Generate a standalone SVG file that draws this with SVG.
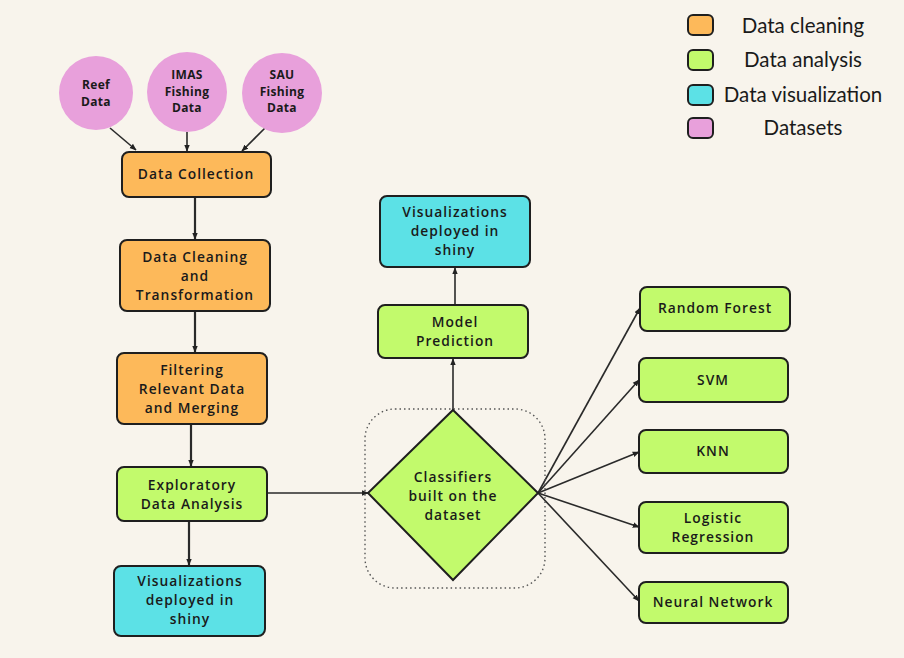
<svg xmlns="http://www.w3.org/2000/svg" width="904" height="658" viewBox="0 0 904 658">
<defs>
<marker id="ah" viewBox="0 0 10 10" refX="9" refY="5" markerWidth="7" markerHeight="7" markerUnits="userSpaceOnUse" orient="auto">
<path d="M0,1 L10,5 L0,9 z" fill="#222"/>
</marker>
<style>
.bx{stroke:#1f1f1f;stroke-width:2}
.or{fill:#FDB95A}.gr{fill:#C2FA6C}.cy{fill:#5CE1E6}.pk{fill:#E8A0DB}
.t{font-family:"Open Sans","Liberation Sans",sans-serif;font-weight:600;font-size:13.8px;letter-spacing:1px;fill:#1a1a1a;text-anchor:middle}
.tc{font-family:"Open Sans","Liberation Sans",sans-serif;font-weight:700;font-size:12px;letter-spacing:0.3px;fill:#1a1a1a;text-anchor:middle}
.lg{font-family:"Lato","Liberation Sans",sans-serif;font-size:20.5px;fill:#1a1a1a;text-anchor:middle}
.c{stroke:#2a2a2a;stroke-width:1.6;fill:none;marker-end:url(#ah)}
.cv{stroke-width:2.2}
</style>
</defs>
<rect width="904" height="658" fill="#F8F4EC"/>
<g id="legend">
<rect x="688" y="15" width="25" height="20" rx="5" class="bx or"/>
<rect x="688" y="50" width="25" height="20" rx="5" class="bx gr"/>
<rect x="688" y="85" width="25" height="20" rx="5" class="bx cy"/>
<rect x="688" y="118" width="25" height="20" rx="5" class="bx pk"/>
<text x="803" y="33" class="lg">Data cleaning</text>
<text x="803" y="67" class="lg">Data analysis</text>
<text x="803" y="102" class="lg">Data visualization</text>
<text x="803" y="135" class="lg">Datasets</text>
</g>
<g id="connectors">
<line x1="110" y1="128" x2="136" y2="150" class="c"/>
<line x1="187" y1="132" x2="187" y2="151" class="c"/>
<line x1="265" y1="128" x2="242" y2="151" class="c"/>
<line x1="195" y1="197" x2="195" y2="239" class="c cv"/>
<line x1="195" y1="311" x2="195" y2="352" class="c cv"/>
<line x1="191" y1="424" x2="191" y2="466" class="c cv"/>
<line x1="189" y1="521" x2="189" y2="565" class="c cv"/>
<line x1="267" y1="493" x2="368" y2="493" class="c"/>
<line x1="453" y1="410" x2="453" y2="359" class="c"/>
<line x1="455" y1="305" x2="455" y2="268" class="c"/>
<line x1="538" y1="493" x2="640" y2="308" class="c"/>
<line x1="538" y1="493" x2="639" y2="380" class="c"/>
<line x1="538" y1="493" x2="639" y2="452" class="c"/>
<line x1="538" y1="493" x2="639" y2="527" class="c"/>
<line x1="538" y1="493" x2="639" y2="601" class="c"/>
</g>
<g id="reef">
<circle cx="96" cy="93" r="37" class="pk"/>
<text x="96" y="89" class="tc">Reef</text>
<text x="96" y="105.5" class="tc">Data</text>
</g>
<g id="imas">
<circle cx="187" cy="92" r="40" class="pk"/>
<text x="187" y="79" class="tc">IMAS</text>
<text x="187" y="95.5" class="tc">Fishing</text>
<text x="187" y="112" class="tc">Data</text>
</g>
<g id="sau">
<circle cx="282" cy="93" r="40" class="pk"/>
<text x="282" y="79" class="tc">SAU</text>
<text x="282" y="95.5" class="tc">Fishing</text>
<text x="282" y="112" class="tc">Data</text>
</g>
<g id="collection">
<rect x="122" y="152" width="149" height="45" rx="7" class="bx or"/>
<text x="196" y="179" class="t">Data Collection</text>
</g>
<g id="cleaning">
<rect x="120" y="240" width="150" height="71" rx="7" class="bx or"/>
<text x="195" y="262" class="t">Data Cleaning</text>
<text x="195" y="281" class="t">and</text>
<text x="195" y="300" class="t">Transformation</text>
</g>
<g id="filtering">
<rect x="117" y="353" width="150" height="71" rx="7" class="bx or"/>
<text x="192" y="375" class="t">Filtering</text>
<text x="192" y="394" class="t">Relevant Data</text>
<text x="192" y="413" class="t">and Merging</text>
</g>
<g id="eda">
<rect x="117" y="467" width="150" height="54" rx="7" class="bx gr"/>
<text x="192" y="490" class="t">Exploratory</text>
<text x="192" y="509" class="t">Data Analysis</text>
</g>
<g id="viz1">
<rect x="114" y="566" width="151" height="70" rx="7" class="bx cy"/>
<text x="190" y="586" class="t">Visualizations</text>
<text x="190" y="605" class="t">deployed in</text>
<text x="190" y="624" class="t">shiny</text>
</g>
<g id="classifiers">
<rect x="365" y="409" width="180" height="179" rx="30" fill="none" stroke="#555" stroke-width="1.4" stroke-dasharray="1.5 3"/>
<polygon points="453,410 538,493 453,580 368,493" class="bx gr"/>
<text x="453" y="482" class="t">Classifiers</text>
<text x="453" y="501" class="t">built on the</text>
<text x="453" y="520" class="t">dataset</text>
</g>
<g id="prediction">
<rect x="378" y="305" width="150" height="53" rx="7" class="bx gr"/>
<text x="455" y="327" class="t">Model</text>
<text x="455" y="346" class="t">Prediction</text>
</g>
<g id="viz2">
<rect x="380" y="196" width="150" height="71" rx="7" class="bx cy"/>
<text x="455" y="217" class="t">Visualizations</text>
<text x="455" y="236" class="t">deployed in</text>
<text x="455" y="255" class="t">shiny</text>
</g>
<g id="rf">
<rect x="640" y="287" width="150" height="44" rx="7" class="bx gr"/>
<text x="715" y="313" class="t">Random Forest</text>
</g>
<g id="svm">
<rect x="639" y="358" width="149" height="44" rx="7" class="bx gr"/>
<text x="713" y="385" class="t">SVM</text>
</g>
<g id="knn">
<rect x="639" y="430" width="149" height="43" rx="7" class="bx gr"/>
<text x="713" y="456" class="t">KNN</text>
</g>
<g id="lr">
<rect x="639" y="502" width="149" height="51" rx="7" class="bx gr"/>
<text x="713" y="523" class="t">Logistic</text>
<text x="713" y="542" class="t">Regression</text>
</g>
<g id="nn">
<rect x="639" y="582" width="149" height="41" rx="7" class="bx gr"/>
<text x="713" y="607" class="t">Neural Network</text>
</g>
</svg>
